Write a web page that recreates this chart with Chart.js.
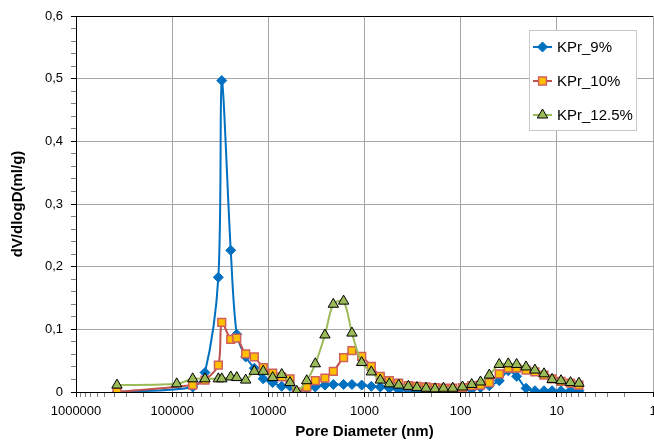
<!DOCTYPE html>
<html>
<head>
<meta charset="utf-8">
<script src="https://cdn.jsdelivr.net/npm/chart.js@4.4.1/dist/chart.umd.min.js"></script>
<style>
  html, body { margin: 0; padding: 0; background: #fff; }
</style>
</head>
<body>
<canvas id="graph" width="654" height="441"></canvas>
<script>
const poreDiameter = [375000, 89700, 61200, 45600, 33100, 30500, 24600, 21300, 17200, 14000,
    11300, 9010, 7260, 5950, 5070, 3990, 3250, 2580, 2110, 1650,
    1350, 1070, 850, 685, 552, 441, 350, 285, 229, 185,
    151, 121, 95.7, 76.8, 62.2, 50.4, 39.7, 32.0, 26.2, 20.9,
    16.9, 13.6, 11.2, 9.05, 7.21, 5.89]

const kpr9 = [0.000, null, 0.008, 0.031, 0.183, 0.497, 0.226, 0.092, 0.056, 0.038,
    0.021, 0.015, 0.009, 0.009, 0.000, 0.005, 0.008, 0.011, 0.012, 0.012,
    0.012, 0.011, 0.009, 0.008, 0.006, 0.003, 0.002, 0.002, 0.002, 0.002,
    0.002, 0.002, 0.002, 0.004, 0.007, 0.010, 0.018, 0.034, 0.025, 0.006,
    0.002, 0.002, 0.002, 0.002, 0.002, 0.002]

const kpr10 = [0.000, null, 0.011, 0.019, 0.043, 0.111, 0.084, 0.086, 0.061, 0.056,
    0.039, 0.030, 0.024, 0.021, 0.000, 0.008, 0.018, 0.022, 0.033, 0.055,
    0.066, 0.057, 0.041, 0.025, 0.018, 0.014, 0.010, 0.009, 0.008, 0.007,
    0.006, 0.006, 0.007, 0.010, 0.011, 0.015, 0.029, 0.038, 0.038, 0.035,
    0.032, 0.027, 0.021, 0.017, 0.014, 0.011]

const kpr125 = [0.011, 0.013, 0.021, 0.021, 0.021, 0.021, 0.024, 0.023, 0.019, 0.033,
    0.033, 0.023, 0.028, 0.015, 0.001, 0.018, 0.045, 0.091, 0.140, 0.145,
    0.094, 0.047, 0.032, 0.019, 0.013, 0.011, 0.009, 0.007, 0.006, 0.005,
    0.006, 0.006, 0.008, 0.012, 0.016, 0.027, 0.044, 0.045, 0.044, 0.040,
    0.035, 0.029, 0.020, 0.018, 0.015, 0.014]

const seriesNames = ['KPr_9%', 'KPr_10%', 'KPr_12.5%']
const xDecades = [1, 10, 100, 1000, 10000, 100000, 1000000]
const yMax = 0.6

const FONT = "'Liberation Sans', Arial, sans-serif"

function toPoints(values){
    return poreDiameter.map((d, i) => ({x: d, y: values[i]}))
}

function isDecade(v){
    const l = Math.log10(v)
    return Math.abs(l - Math.round(l)) < 1e-9
}

function isMajorY(v){
    return Math.abs(v * 10 - Math.round(v * 10)) < 1e-6
}

// log ticks at 1..9 of every decade
function buildXTicks(scale){
    const ticks = []
    for (let i = 0; i < xDecades.length - 1; i++){
        for (let m = 1; m < 10; m++) ticks.push({value: xDecades[i] * m})
    }
    ticks.push({value: xDecades[xDecades.length - 1]})
    scale.ticks = ticks
}

function buildYTicks(scale){
    const ticks = []
    for (let i = 0; i <= Math.round(yMax * 50); i++) ticks.push({value: Math.round(i * 2) / 100})
    scale.ticks = ticks
}

const legendBox = {
    id: 'legendBox',
    afterDraw(chart){
        const ctx = chart.ctx
        const x = 529.5, y = 30.5, w = 107, h = 100
        ctx.save()
        ctx.fillStyle = '#fff'
        ctx.strokeStyle = '#c8c8c8'
        ctx.lineWidth = 1
        ctx.fillRect(x, y, w, h)
        ctx.strokeRect(x, y, w, h)
        chart.data.datasets.forEach((ds, i) => {
            const ry = 47 + i * 34
            ctx.strokeStyle = ds.borderColor
            ctx.lineWidth = 2
            ctx.beginPath()
            ctx.moveTo(533, ry)
            ctx.lineTo(552, ry)
            ctx.stroke()
            ctx.fillStyle = ds.pointBackgroundColor
            ctx.strokeStyle = ds.pointBorderColor
            ctx.lineWidth = ds.pointBorderWidth
            Chart.helpers.drawPoint(ctx, {pointStyle: ds.pointStyle, radius: ds.pointRadius, rotation: 0, borderWidth: ds.pointBorderWidth}, 542.5, ry)
            ctx.fillStyle = '#000'
            ctx.font = '15px ' + FONT
            ctx.textBaseline = 'middle'
            ctx.fillText(ds.label, 557, ry + 1)
        })
        ctx.restore()
    }
}

const plotFrame = {
    id: 'plotFrame',
    beforeDatasetsDraw(chart){
        const a = chart.chartArea
        const ctx = chart.ctx
        ctx.save()
        ctx.strokeStyle = '#000'
        ctx.lineWidth = 1
        ctx.beginPath()
        ctx.moveTo(a.left, a.top + 0.5)
        ctx.lineTo(a.right, a.top + 0.5)
        ctx.stroke()
        ctx.restore()
    }
}

const canvas = document.querySelector('#graph')
const ctx = canvas.getContext('2d')

const data = {
    datasets: [
        {
            label: seriesNames[0],
            data: toPoints(kpr9),
            borderColor: '#0070C0',
            borderWidth: 2,
            pointStyle: 'rectRot',
            pointRadius: 5,
            pointBackgroundColor: '#0070C0',
            pointBorderColor: '#0070C0',
            pointBorderWidth: 1,
            order: 3
        },
        {
            label: seriesNames[1],
            data: toPoints(kpr10),
            borderColor: '#C0504D',
            borderWidth: 2,
            pointStyle: 'rect',
            pointRadius: 5.5,
            pointBackgroundColor: '#FFC000',
            pointBorderColor: '#D0605A',
            pointBorderWidth: 1.5,
            order: 2
        },
        {
            label: seriesNames[2],
            data: toPoints(kpr125),
            borderColor: '#9BBB59',
            borderWidth: 2,
            pointStyle: 'triangle',
            pointRadius: 6,
            pointBackgroundColor: '#9BBB59',
            pointBorderColor: '#000',
            pointBorderWidth: 1,
            order: 1
        }
    ]
}

Chart.defaults.font.family = FONT
Chart.defaults.color = '#000'

new Chart(ctx, {
    type: 'line',
    data: data,
    plugins: [plotFrame, legendBox],
    options: {
        responsive: false,
        animation: false,
        events: [],
        spanGaps: true,
        layout: {autoPadding: false, padding: {top: 16, right: 1, left: 0, bottom: 0}},
        elements: {line: {tension: 0.3}},
        plugins: {legend: {display: false}, tooltip: {enabled: false}},
        scales: {
            x: {
                type: 'logarithmic',
                reverse: true,
                min: 1,
                max: 1000000,
                afterBuildTicks: buildXTicks,
                afterFit(scale){ scale.height = 49; scale.paddingLeft = 0; scale.paddingRight = 0 },
                border: {display: true, color: '#000', width: 1},
                grid: {
                    color: c => isDecade(c.tick.value) ? '#a6a6a6' : 'rgba(0,0,0,0)',
                    tickColor: c => isDecade(c.tick.value) ? '#000' : '#808080',
                    tickLength: 5,
                    drawTicks: true
                },
                ticks: {
                    autoSkip: false,
                    maxRotation: 0,
                    padding: 7,
                    font: {size: 13},
                    callback: v => isDecade(v) ? String(v) : ''
                },
                title: {
                    display: true,
                    text: 'Pore Diameter (nm)',
                    font: {size: 15, weight: 'bold'},
                    padding: {top: 0, bottom: 0}
                }
            },
            y: {
                min: 0,
                max: yMax,
                afterBuildTicks: buildYTicks,
                afterFit(scale){ scale.width = 76 },
                border: {display: true, color: '#000', width: 1},
                grid: {
                    color: c => isMajorY(c.tick.value) ? '#a6a6a6' : 'rgba(0,0,0,0)',
                    tickColor: c => isMajorY(c.tick.value) ? '#000' : '#808080',
                    tickLength: 5
                },
                ticks: {
                    autoSkip: false,
                    padding: 8,
                    font: {size: 13},
                    callback: v => isMajorY(v) ? String(Math.round(v * 10) / 10).replace('.', ',') : ''
                },
                title: {
                    display: true,
                    text: 'dV/dlogD(ml/g)',
                    font: {size: 15, weight: 'bold'},
                    padding: {top: 9, bottom: 0}
                }
            }
        }
    }
})
</script>
</body>
</html>
